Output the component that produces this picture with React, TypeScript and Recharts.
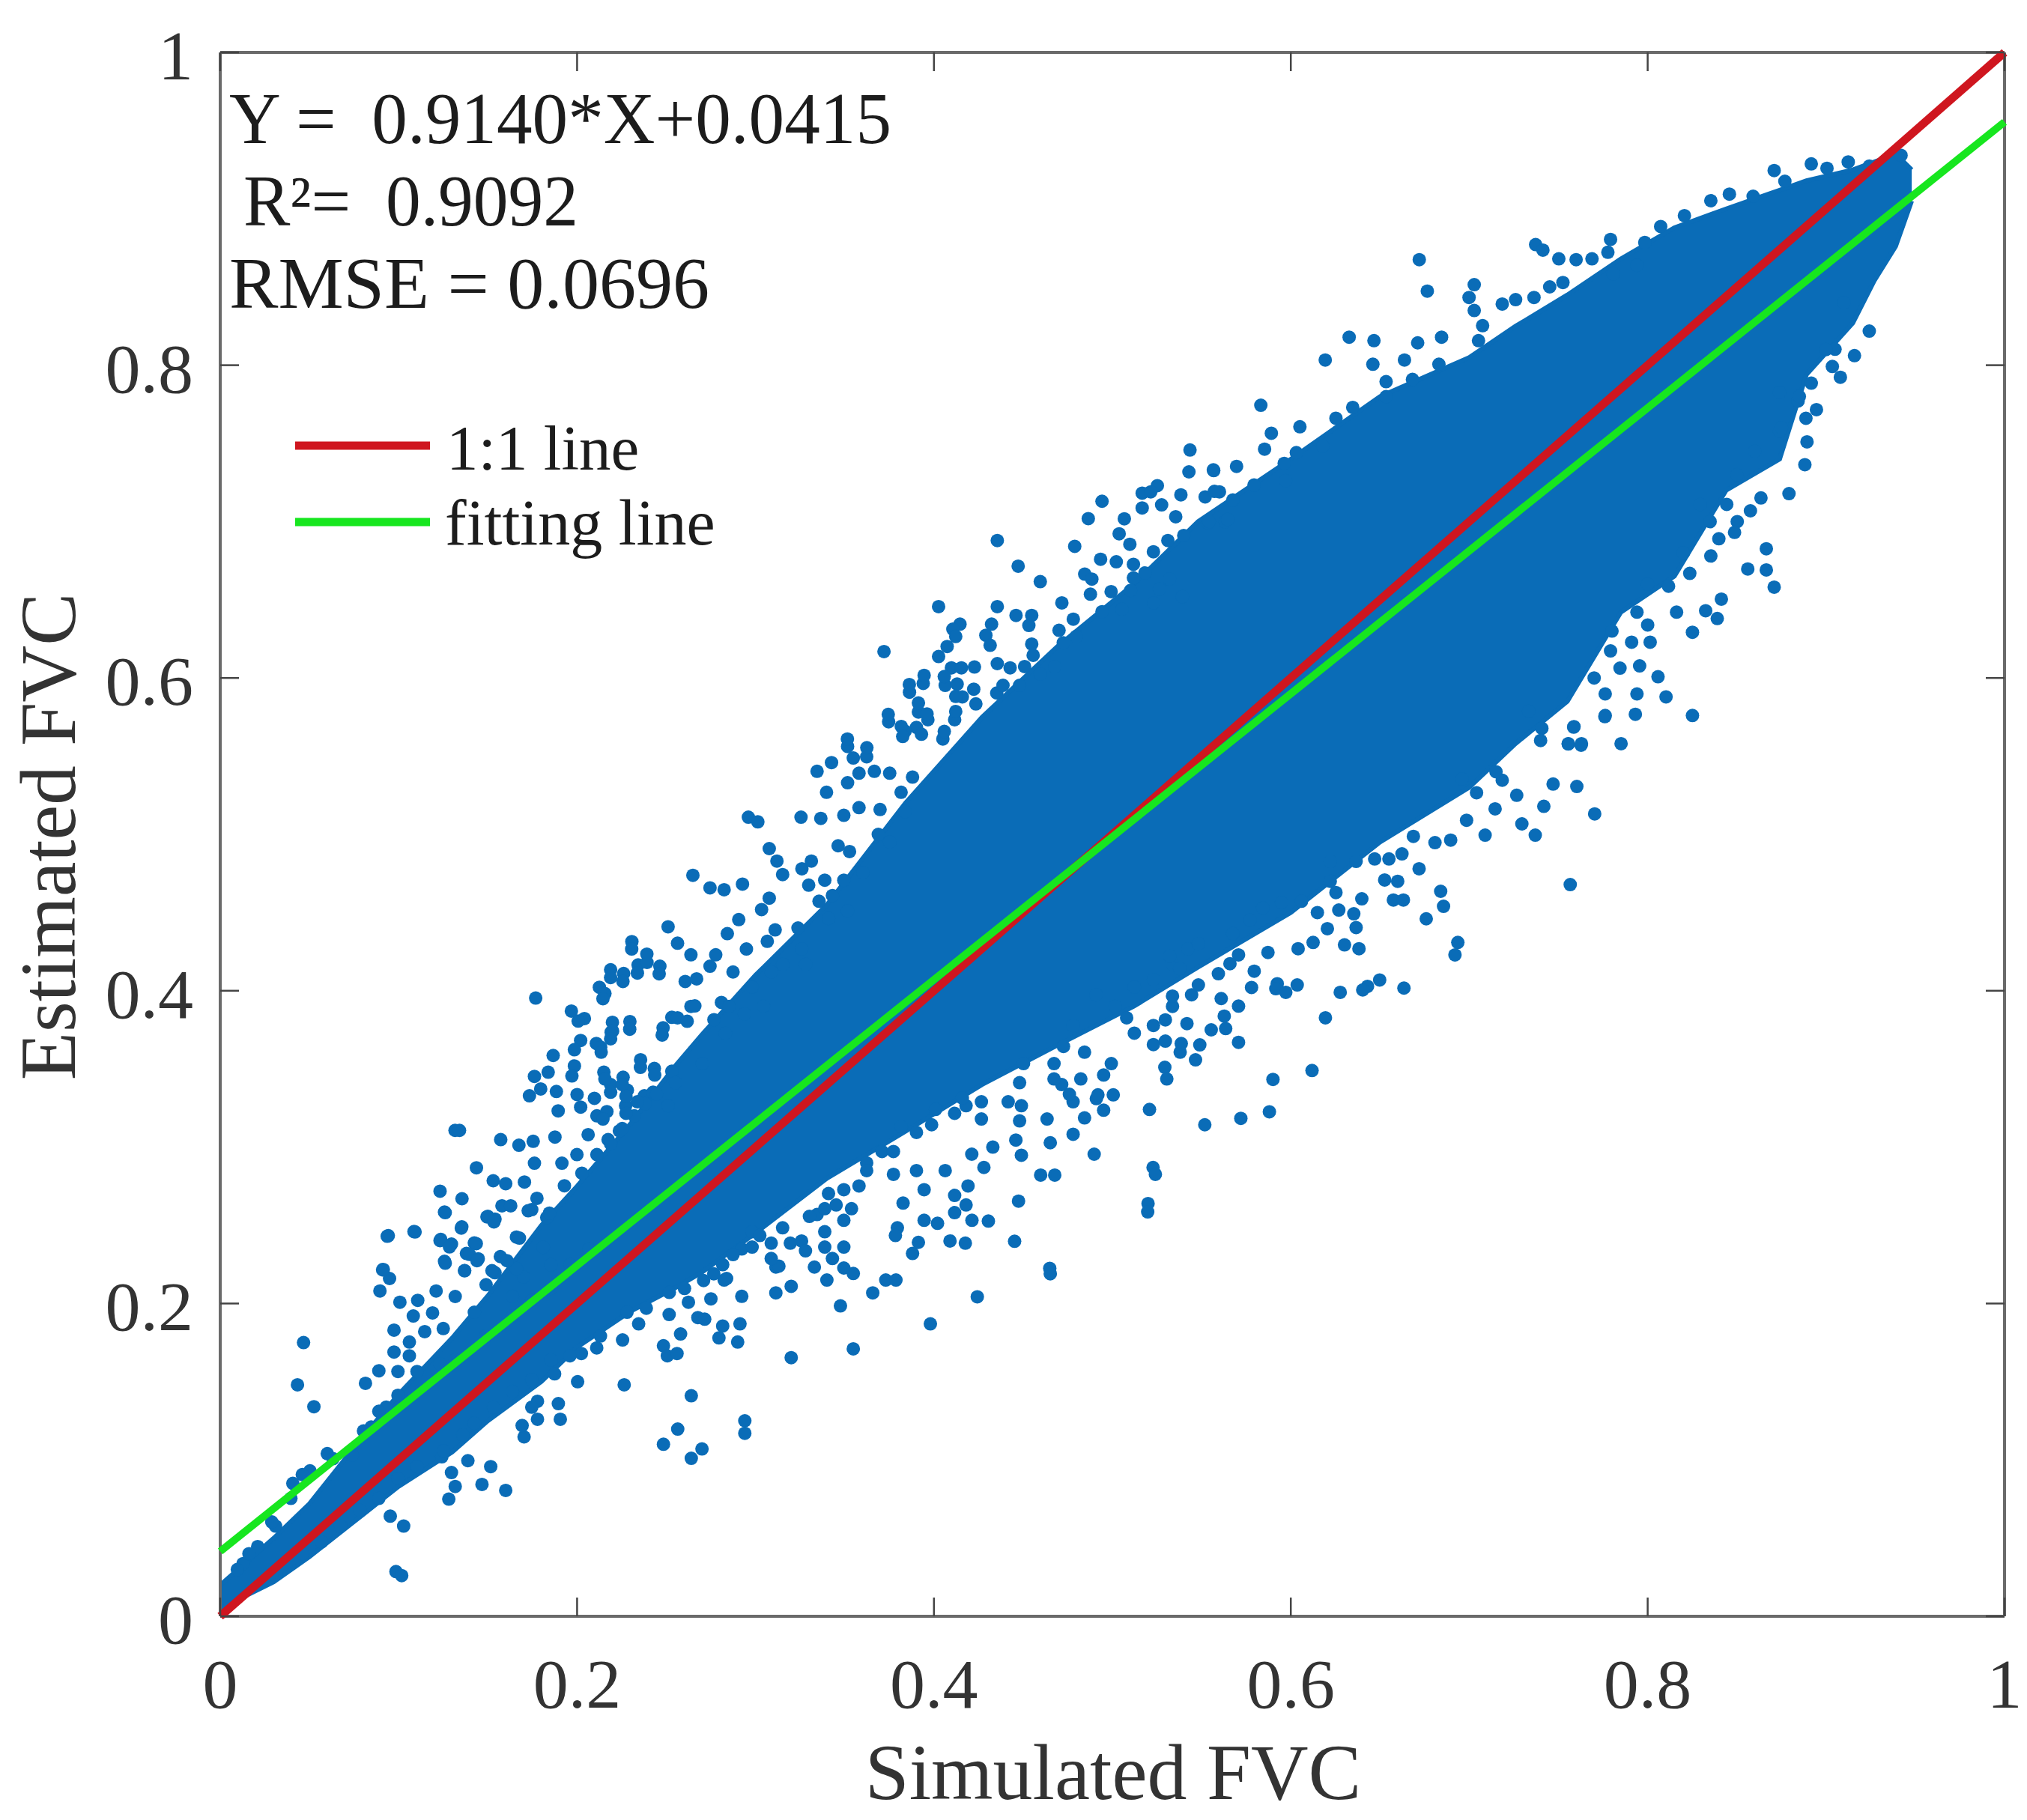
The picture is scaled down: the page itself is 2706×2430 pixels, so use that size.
import { ComposedChart, Area, Scatter, Line, XAxis, YAxis } from 'recharts';

const BLUE = '#0a6cb7';
const FONT = '"Liberation Serif", serif';

const tickValues = [0, 0.2, 0.4, 0.6, 0.8, 1];
const oneToOneLine = [{ x: 0, y: 0 }, { x: 1, y: 1 }];
const fittingLine = [{ x: 0, y: 0.0415 }, { x: 1, y: 0.9555 }];

// solid part of the cloud: x, lower edge, upper edge
const coreEdges = [
  [0, 0.005, 0.02], [0.03, 0.022, 0.05], [0.05, 0.038, 0.072], [0.08, 0.065, 0.115],
  [0.1, 0.083, 0.142], [0.13, 0.105, 0.178], [0.15, 0.125, 0.205], [0.18, 0.15, 0.25],
  [0.2, 0.172, 0.275], [0.23, 0.195, 0.315], [0.255, 0.21, 0.352], [0.27, 0.22, 0.372],
  [0.3, 0.245, 0.41], [0.34, 0.28, 0.455], [0.384, 0.31, 0.52], [0.427, 0.34, 0.575],
  [0.469, 0.365, 0.62], [0.512, 0.39, 0.66], [0.548, 0.415, 0.7], [0.6, 0.45, 0.74],
  [0.65, 0.495, 0.78], [0.7, 0.53, 0.805], [0.726, 0.558, 0.825], [0.755, 0.585, 0.845],
  [0.785, 0.642, 0.868], [0.815, 0.665, 0.888], [0.844, 0.72, 0.9], [0.874, 0.74, 0.912],
  [0.889, 0.794, 0.918], [0.915, 0.827, 0.925], [0.927, 0.854, 0.93], [0.939, 0.876, 0.935],
  [0.948, 0.905, 0.925],
];

// separate dots above the solid part
const upperDots = [
  [0.0467, 0.175], [0.0433, 0.148], [0.0525, 0.134], [0.0936, 0.243], [0.1086, 0.246], [0.091, 0.2215],
  [0.0949, 0.216], [0.0895, 0.208], [0.1257, 0.2585], [0.1354, 0.249], [0.15, 0.2557], [0.154, 0.254],
  [0.1236, 0.241], [0.1296, 0.238], [0.1257, 0.227], [0.1424, 0.2387], [0.138, 0.232], [0.1446, 0.2286],
  [0.137, 0.221], [0.1007, 0.2008], [0.1107, 0.202], [0.1082, 0.192], [0.121, 0.208], [0.0974, 0.183],
  [0.106, 0.1754], [0.0974, 0.169], [0.0889, 0.157], [0.0814, 0.149], [0.06, 0.104], [0.0503, 0.093],
  [0.0407, 0.085], [0.021, 0.0446], [0.0128, 0.0337], [0.154, 0.2197], [0.166, 0.2425], [0.183, 0.255],
  [0.1746, 0.26], [0.181, 0.236], [0.157, 0.23], [0.17, 0.217], [0.149, 0.212], [0.1317, 0.2045],
  [0.119, 0.194], [0.125, 0.184], [0.1146, 0.182], [0.106, 0.1666], [0.0996, 0.1565], [0.093, 0.1337],
  [0.0846, 0.121], [0.074, 0.103], [0.046, 0.0906], [0.031, 0.0577], [0.1638, 0.2046], [0.1424, 0.1944],
  [0.1232, 0.1615], [0.1317, 0.164], [0.1489, 0.1792], [0.1638, 0.1919], [0.1746, 0.202], [0.1853, 0.2096],
  [0.196, 0.2248], [0.2067, 0.2349], [0.1853, 0.2248], [0.166, 0.2223], [0.1103, 0.1565], [0.0996, 0.1413],
  [0.0889, 0.1311], [0.0803, 0.1185], [0.0632, 0.1008], [0.0396, 0.0754], [0.0289, 0.0603], [0.0161, 0.04],
  [0.0096, 0.0299],
  [0.2307, 0.4314], [0.2391, 0.4234], [0.2342, 0.4165], [0.2464, 0.4157], [0.2188, 0.4134], [0.2261, 0.411],
  [0.2125, 0.4022], [0.2156, 0.3982], [0.1768, 0.3953], [0.1968, 0.387], [0.2041, 0.3822], [0.2006, 0.3806],
  [0.2198, 0.3798], [0.2296, 0.3803], [0.2191, 0.3735], [0.2482, 0.3763], [0.2531, 0.383], [0.202, 0.3682],
  [0.1985, 0.3623], [0.2108, 0.3663], [0.2132, 0.3639], [0.1866, 0.3586], [0.2356, 0.3559], [0.1985, 0.3519],
  [0.1838, 0.3479], [0.1761, 0.3452], [0.1971, 0.3455], [0.215, 0.3479], [0.2258, 0.3447], [0.2188, 0.34],
  [0.2433, 0.3503], [0.1796, 0.3372], [0.1733, 0.3328], [0.1884, 0.3356], [0.2282, 0.3364], [0.2, 0.3336],
  [0.2097, 0.3312], [0.2377, 0.3328], [0.2426, 0.3351], [0.202, 0.3256], [0.1894, 0.3232], [0.2111, 0.32],
  [0.2167, 0.3227], [0.2272, 0.3264], [0.2321, 0.32], [0.1316, 0.3107], [0.1341, 0.3107], [0.1572, 0.3048],
  [0.1674, 0.3012], [0.1754, 0.3037], [0.1876, 0.3064], [0.2062, 0.308], [0.2174, 0.3048], [0.2237, 0.3104],
  [0.1436, 0.2868], [0.1761, 0.2897], [0.1999, 0.2952], [0.2111, 0.2952], [0.1915, 0.2897], [0.153, 0.2785],
  [0.16, 0.2766], [0.1705, 0.2777], [0.1232, 0.2718], [0.1355, 0.267], [0.1579, 0.2625], [0.1628, 0.2625],
  [0.1261, 0.2581], [0.1495, 0.2554], [0.1534, 0.2522], [0.1726, 0.2593], [0.1351, 0.2482], [0.0942, 0.2434],
  [0.1092, 0.2458], [0.1232, 0.2402], [0.1285, 0.2362], [0.1435, 0.2383], [0.1397, 0.2314], [0.1261, 0.2258],
  [0.1439, 0.2274], [0.0914, 0.2218], [0.1677, 0.2418], [0.1607, 0.2274], [0.1775, 0.2673], [0.1845, 0.2578],
  [0.1929, 0.2753], [0.2027, 0.2833], [0.1369, 0.221], [0.1523, 0.221],
  [0.3863, 0.5909], [0.394, 0.5965], [0.4063, 0.5953], [0.3746, 0.572], [0.3913, 0.5782], [0.3516, 0.5562],
  [0.3623, 0.5496], [0.3548, 0.5488], [0.3345, 0.5403], [0.3426, 0.5459], [0.3516, 0.533], [0.3398, 0.5269],
  [0.358, 0.5171], [0.3495, 0.5122], [0.3698, 0.5159], [0.3255, 0.511], [0.3366, 0.5102], [0.296, 0.511],
  [0.3013, 0.508], [0.3077, 0.4909], [0.312, 0.4829], [0.3152, 0.4743], [0.326, 0.478], [0.3313, 0.4829],
  [0.3463, 0.4927], [0.3527, 0.489], [0.2649, 0.4738], [0.2745, 0.4658], [0.2824, 0.4646], [0.2927, 0.4682],
  [0.3077, 0.4592], [0.3034, 0.4519], [0.3298, 0.4675], [0.3356, 0.4572], [0.2906, 0.4455], [0.251, 0.4409],
  [0.2563, 0.4304], [0.2306, 0.4267], [0.2638, 0.423], [0.2392, 0.4181], [0.2338, 0.4113], [0.246, 0.4108],
  [0.2188, 0.4084], [0.2257, 0.4059], [0.2606, 0.4059], [0.267, 0.4076], [0.2842, 0.4365], [0.2777, 0.423],
  [0.2949, 0.4267], [0.3066, 0.4316], [0.311, 0.4389], [0.3238, 0.4401], [0.2745, 0.4157], [0.2874, 0.412],
  [0.2145, 0.3949], [0.2638, 0.39], [0.2809, 0.3925], [0.2563, 0.3827], [0.2767, 0.3815], [0.2199, 0.3742],
  [0.2295, 0.3754], [0.2477, 0.3717], [0.2188, 0.3693], [0.2135, 0.3607], [0.2355, 0.351], [0.2435, 0.3461],
  [0.2531, 0.3485], [0.2156, 0.3436], [0.2253, 0.34], [0.2188, 0.3351], [0.2274, 0.3326], [0.2381, 0.3277],
  [0.2145, 0.318], [0.2274, 0.3216],
  [0.2981, 0.4023], [0.3088, 0.412], [0.3152, 0.4169], [0.3259, 0.4267], [0.3281, 0.4169], [0.3388, 0.4707],
  [0.3431, 0.4609], [0.3495, 0.4707], [0.3409, 0.4462], [0.3516, 0.4511], [0.3602, 0.4756], [0.3688, 0.5],
  [0.3752, 0.4951], [0.3816, 0.5269], [0.388, 0.5366], [0.3838, 0.5146], [0.3752, 0.5391], [0.3666, 0.5403],
  [0.358, 0.5391], [0.3902, 0.5684], [0.3966, 0.5733], [0.3838, 0.566], [0.405, 0.561], [0.4116, 0.5733],
  [0.4159, 0.5879], [0.4223, 0.5928], [0.4352, 0.5904], [0.448, 0.5953], [0.2617, 0.3805], [0.266, 0.3903],
  [0.2852, 0.39], [0.2702, 0.3534], [0.2552, 0.3412], [0.2445, 0.3339], [0.2338, 0.329], [0.2253, 0.3119],
  [0.2188, 0.3021], [0.251, 0.3265], [0.2831, 0.3729], [0.2938, 0.3852], [0.3045, 0.3901],
  [0.5435, 0.7458], [0.5429, 0.7318], [0.5568, 0.7326], [0.5252, 0.723], [0.5167, 0.7182], [0.5215, 0.719],
  [0.4942, 0.713], [0.5384, 0.7171], [0.5167, 0.7087], [0.5276, 0.7107], [0.552, 0.7158], [0.56, 0.719],
  [0.5355, 0.7031], [0.4865, 0.7019], [0.5067, 0.7018], [0.5536, 0.6991], [0.5633, 0.6999], [0.5038, 0.6922],
  [0.4355, 0.6879], [0.4789, 0.6842], [0.5098, 0.6855], [0.54, 0.6911], [0.5311, 0.6879], [0.523, 0.6807],
  [0.4934, 0.6759], [0.5022, 0.6743], [0.4472, 0.6715], [0.4845, 0.6664], [0.4885, 0.6632], [0.4596, 0.6616],
  [0.5118, 0.6727], [0.5183, 0.6672], [0.5118, 0.664], [0.532, 0.6632], [0.5263, 0.6568], [0.5102, 0.656],
  [0.4993, 0.6552], [0.4717, 0.648], [0.4026, 0.6456], [0.4355, 0.6456], [0.446, 0.64], [0.4548, 0.64],
  [0.4532, 0.6336], [0.4146, 0.6344], [0.4323, 0.6344], [0.4106, 0.6312], [0.4122, 0.6265], [0.4291, 0.6273],
  [0.4315, 0.6209], [0.4074, 0.6201], [0.4548, 0.6217], [0.4026, 0.6137], [0.372, 0.6169], [0.4556, 0.6145],
  [0.4725, 0.6225], [0.4701, 0.6305], [0.4781, 0.6376], [0.4877, 0.6536], [0.5054, 0.644], [0.5231, 0.648],
  [0.5392, 0.652], [0.4098, 0.6065], [0.4154, 0.6065], [0.4227, 0.607], [0.4355, 0.6092], [0.4427, 0.6065],
  [0.4508, 0.6073], [0.4596, 0.6025], [0.4677, 0.6073], [0.3945, 0.6017], [0.3862, 0.5958], [0.4058, 0.6009],
  [0.413, 0.5961], [0.4387, 0.5953], [0.3744, 0.5767], [0.3913, 0.584], [0.4122, 0.5882], [0.3817, 0.569],
  [0.3961, 0.577], [0.3825, 0.5626], [0.3515, 0.561], [0.3624, 0.5554], [0.393, 0.564], [0.4058, 0.5658],
  [0.4122, 0.5786], [0.4235, 0.5834], [0.4797, 0.6265], [0.4942, 0.6424],
  [0.672, 0.8675], [0.6765, 0.8474], [0.6327, 0.8179], [0.6466, 0.8157], [0.6193, 0.8033], [0.5832, 0.7744],
  [0.5891, 0.7565], [0.6051, 0.7606], [0.5853, 0.7463], [0.6031, 0.7441], [0.5963, 0.7372], [0.5566, 0.7331],
  [0.5696, 0.7353], [0.5572, 0.7193], [0.5794, 0.7234], [0.5675, 0.7138], [0.5971, 0.7262], [0.5542, 0.7],
  [0.5646, 0.7014], [0.6179, 0.7482], [0.6253, 0.7661], [0.6347, 0.773], [0.6534, 0.7799], [0.6534, 0.7895],
  [0.646, 0.8006], [0.6711, 0.8143], [0.6845, 0.8179], [0.6637, 0.8033], [0.6682, 0.7909], [0.683, 0.8006],
  [0.7028, 0.8515], [0.6999, 0.8433], [0.7028, 0.835], [0.7075, 0.8253], [0.7052, 0.8157], [0.7185, 0.8391],
  [0.726, 0.8419], [0.7363, 0.8433], [0.7372, 0.8771], [0.7413, 0.8736], [0.7502, 0.868], [0.7599, 0.8675],
  [0.7688, 0.868], [0.7792, 0.8804], [0.7777, 0.8722], [0.7984, 0.8785], [0.7807, 0.8584], [0.7525, 0.8529],
  [0.7451, 0.8501], [0.794, 0.8639], [0.8206, 0.8956], [0.8073, 0.8887], [0.8458, 0.9094], [0.8354, 0.9052],
  [0.8709, 0.9245], [0.8769, 0.9176], [0.8917, 0.9287], [0.9005, 0.9259], [0.9124, 0.93], [0.9242, 0.9273],
  [0.942, 0.9342], [0.8591, 0.908],
];

// separate dots below the solid part
const lowerDots = [
  [0.1296, 0.0919], [0.1388, 0.0995], [0.1516, 0.0957], [0.1317, 0.083], [0.1467, 0.0843], [0.16, 0.0805],
  [0.1281, 0.0749], [0.0953, 0.064], [0.1028, 0.0577], [0.0985, 0.0286], [0.1017, 0.026], [0.1242, 0.102],
  [0.2003, 0.15], [0.2264, 0.148], [0.264, 0.141], [0.2564, 0.1197], [0.2484, 0.11], [0.264, 0.101],
  [0.27, 0.107], [0.294, 0.125], [0.294, 0.117], [0.2255, 0.1767], [0.2484, 0.173], [0.2506, 0.1666],
  [0.256, 0.168], [0.258, 0.1805], [0.2677, 0.191], [0.2816, 0.1856], [0.29, 0.1754], [0.2795, 0.178],
  [0.2913, 0.187], [0.1778, 0.1375], [0.1778, 0.126], [0.1895, 0.136], [0.1906, 0.126], [0.1703, 0.1147],
  [0.1692, 0.122], [0.1746, 0.1337], [0.1874, 0.155], [0.211, 0.1716], [0.2024, 0.168], [0.2345, 0.187],
  [0.2516, 0.193], [0.2624, 0.2008], [0.275, 0.203], [0.2838, 0.216], [0.2923, 0.2046],
  [0.228, 0.1944], [0.2388, 0.197], [0.2517, 0.2071], [0.2602, 0.2096], [0.2709, 0.2147], [0.2816, 0.2248],
  [0.2923, 0.2349], [0.2131, 0.1792], [0.196, 0.1666], [0.1853, 0.164], [0.1746, 0.1514], [0.1638, 0.1438],
  [0.1531, 0.1337], [0.1424, 0.1235], [0.136, 0.116], [0.1253, 0.1058], [0.1103, 0.0957], [0.0996, 0.0881],
  [0.0889, 0.0754], [0.0782, 0.0678], [0.0675, 0.0577], [0.0568, 0.0476], [0.046, 0.04],
  [0.32, 0.1654], [0.3548, 0.171], [0.32, 0.211], [0.34, 0.215], [0.3476, 0.1985], [0.373, 0.215],
  [0.3787, 0.215], [0.398, 0.187], [0.4243, 0.2043], [0.409, 0.24], [0.4649, 0.2225], [0.52, 0.2639],
  [0.5228, 0.287], [0.491, 0.331], [0.572, 0.3184], [0.5518, 0.3143], [0.588, 0.3226], [0.59, 0.3433],
  [0.6119, 0.349], [0.643, 0.4028], [0.3258, 0.24], [0.3114, 0.2233], [0.333, 0.2233], [0.2824, 0.215],
  [0.2715, 0.19], [0.3114, 0.2068], [0.3548, 0.2192], [0.3657, 0.2068],
  [0.5208, 0.3241], [0.5241, 0.2826], [0.5198, 0.2586], [0.4898, 0.2955], [0.478, 0.3082], [0.4652, 0.3028],
  [0.4634, 0.318], [0.4844, 0.3187], [0.4951, 0.3236], [0.5005, 0.3334], [0.4919, 0.3334], [0.478, 0.329],
  [0.449, 0.2948], [0.4459, 0.3045], [0.433, 0.3], [0.4212, 0.2955], [0.428, 0.287], [0.4598, 0.2821],
  [0.4677, 0.2821], [0.4474, 0.2655], [0.4191, 0.2752], [0.4116, 0.2691], [0.418, 0.263], [0.4116, 0.2581],
  [0.4213, 0.2532], [0.4305, 0.2527], [0.3945, 0.2532], [0.402, 0.2513], [0.3795, 0.2484], [0.3784, 0.2435],
  [0.4176, 0.2386], [0.4452, 0.2398], [0.3913, 0.2391], [0.388, 0.232], [0.4652, 0.219], [0.3827, 0.2642],
  [0.4063, 0.285], [0.3945, 0.2728], [0.5294, 0.351], [0.5305, 0.3436], [0.5466, 0.3558], [0.538, 0.3607],
  [0.5123, 0.3729], [0.523, 0.3656], [0.4994, 0.3534], [0.4726, 0.3644], [0.4673, 0.3534], [0.4716, 0.34],
  [0.4759, 0.3338], [0.4823, 0.3436], [0.4502, 0.3534], [0.449, 0.3265], [0.448, 0.3168], [0.4266, 0.318],
  [0.418, 0.3265], [0.3987, 0.3143], [0.3816, 0.3131], [0.3709, 0.2972], [0.3623, 0.2899], [0.3773, 0.2826],
  [0.3902, 0.285], [0.3452, 0.263], [0.3538, 0.2606], [0.3388, 0.2459], [0.3495, 0.2361], [0.3431, 0.2288],
  [0.3495, 0.2227], [0.3195, 0.2386], [0.3088, 0.2386], [0.3131, 0.2239], [0.298, 0.2459], [0.3345, 0.2569],
  [0.358, 0.2752],
  [0.4909, 0.3974], [0.5016, 0.39], [0.5123, 0.4023], [0.523, 0.4071], [0.5337, 0.4169], [0.5423, 0.4267],
  [0.508, 0.3827], [0.523, 0.3778], [0.5337, 0.39], [0.5444, 0.3974], [0.478, 0.3778], [0.4844, 0.3607],
  [0.4951, 0.3461], [0.4673, 0.3436], [0.448, 0.3412], [0.4416, 0.329], [0.4266, 0.329], [0.4159, 0.3314],
  [0.4116, 0.3216], [0.4009, 0.3241], [0.3902, 0.3094], [0.3773, 0.2972], [0.3623, 0.285], [0.3495, 0.2728],
  [0.3409, 0.2703], [0.3495, 0.2532], [0.3388, 0.2606], [0.3302, 0.2557], [0.3152, 0.2484], [0.3024, 0.2435],
  [0.2981, 0.2361], [0.3088, 0.2288], [0.2874, 0.2313], [0.2766, 0.219], [0.328, 0.2337], [0.3388, 0.2361],
  [0.7587, 0.5689], [0.7555, 0.5578], [0.7627, 0.557], [0.776, 0.5753], [0.7185, 0.5346], [0.7266, 0.525],
  [0.747, 0.5322], [0.7603, 0.5306], [0.7418, 0.5179], [0.7703, 0.5131], [0.7145, 0.5163], [0.7295, 0.5067],
  [0.737, 0.4995], [0.7089, 0.4995], [0.7566, 0.4679], [0.684, 0.4636], [0.6856, 0.454], [0.6759, 0.446],
  [0.6936, 0.4309], [0.692, 0.4229], [0.6719, 0.478], [0.6526, 0.4708], [0.6599, 0.47], [0.6398, 0.4588],
  [0.6575, 0.458], [0.6631, 0.458], [0.6269, 0.4516], [0.6149, 0.45], [0.6353, 0.4492], [0.6366, 0.4404],
  [0.6205, 0.4397], [0.6125, 0.4309], [0.6041, 0.4269], [0.6301, 0.4293], [0.6382, 0.4269], [0.5872, 0.4245],
  [0.5771, 0.4452], [0.5843, 0.453], [0.5948, 0.4564], [0.606, 0.4572], [0.6221, 0.4827], [0.6366, 0.4827],
  [0.6221, 0.47], [0.6253, 0.4628], [0.647, 0.4843], [0.655, 0.4843], [0.6623, 0.4875], [0.6808, 0.4947],
  [0.6896, 0.4963], [0.6687, 0.4987], [0.7041, 0.5266], [0.6985, 0.509], [0.696, 0.5354], [0.6036, 0.4037],
  [0.5924, 0.4045], [0.578, 0.4021], [0.5795, 0.4125], [0.5707, 0.4229], [0.5659, 0.4173], [0.6277, 0.399],
  [0.6403, 0.4005], [0.6498, 0.4069], [0.6634, 0.4017], [0.6194, 0.3827], [0.5707, 0.3902], [0.561, 0.395],
  [0.5627, 0.3838], [0.5418, 0.379], [0.5554, 0.375], [0.5635, 0.3758], [0.5707, 0.367], [0.549, 0.3654],
  [0.5386, 0.3662], [0.5297, 0.3678], [0.5297, 0.3814], [0.5337, 0.3966], [0.5482, 0.4037], [0.5377, 0.4141],
  [0.5321, 0.4221], [0.5482, 0.43], [0.5916, 0.4013], [0.5972, 0.399], [0.5594, 0.4109], [0.5675, 0.4365],
  [0.9242, 0.8218], [0.905, 0.8102], [0.9159, 0.8061], [0.908, 0.7923], [0.8946, 0.7716], [0.8887, 0.7661],
  [0.8893, 0.751], [0.8881, 0.7364], [0.8792, 0.7179], [0.8635, 0.7151], [0.8576, 0.7069], [0.8502, 0.7],
  [0.8487, 0.6931], [0.8399, 0.689], [0.8354, 0.678], [0.8665, 0.6826], [0.8561, 0.6697], [0.8665, 0.6691],
  [0.8709, 0.6581], [0.8413, 0.6504], [0.8325, 0.643], [0.839, 0.638], [0.8251, 0.6292], [0.8162, 0.6421],
  [0.8058, 0.6008], [0.8103, 0.5879], [0.794, 0.5898], [0.7931, 0.5768], [0.8251, 0.576], [0.7955, 0.6077],
  [0.7845, 0.6063], [0.7792, 0.6173], [0.8014, 0.6229], [0.791, 0.6229], [0.7762, 0.576], [0.7762, 0.5898],
  [0.7585, 0.5686], [0.7851, 0.558], [0.7555, 0.558], [0.7629, 0.558], [0.7333, 0.5788], [0.7407, 0.5678],
  [0.794, 0.6421], [0.8, 0.6339], [0.8117, 0.6587], [0.8236, 0.6669], [0.8843, 0.7771], [0.8739, 0.7826],
  [0.8739, 0.7578], [0.9035, 0.7992], [0.8917, 0.7885], [0.8443, 0.711], [0.8295, 0.711],
  [0.8, 0.66], [0.82, 0.68], [0.835, 0.7], [0.85, 0.73], [0.86, 0.745], [0.875, 0.76], [0.885, 0.78],
  [0.9, 0.81], [0.91, 0.84], [0.74, 0.56], [0.77, 0.6], [0.78, 0.63], [0.715, 0.54],
];

const chartRows = coreEdges.map(([x, low, high]) => ({ x, band: [low, high] }));
const dots = [...upperDots, ...lowerDots].map(([x, y]) => ({ x, y }));

function Dot(props: any) {
  return <circle cx={props.cx} cy={props.cy} r={9} fill={BLUE} />;
}

function BottomTick({ x, y, payload }: any) {
  return (
    <g>
      <line x1={x} x2={x} y1={y} y2={y - 25} stroke="#444" strokeWidth={2.5} />
      <text x={x} y={y + 122} textAnchor="middle" fontSize={94} fontFamily={FONT} fill="#333">
        {payload.value}
      </text>
    </g>
  );
}

function LeftTick({ x, y, payload }: any) {
  return (
    <g>
      <line x1={x} x2={x + 25} y1={y} y2={y} stroke="#444" strokeWidth={2.5} />
      <text x={258} y={y + 36} textAnchor="end" fontSize={94} fontFamily={FONT} fill="#333">
        {payload.value}
      </text>
    </g>
  );
}

function TopTick({ x, y }: any) {
  return <line x1={x} x2={x} y1={y} y2={y + 25} stroke="#444" strokeWidth={2.5} />;
}

function RightTick({ x, y }: any) {
  return <line x1={x} x2={x - 25} y1={y} y2={y} stroke="#444" strokeWidth={2.5} />;
}

const textStyle = { fontFamily: FONT, fill: '#1c1c1c', style: { whiteSpace: 'pre' as const } };
const frame = { stroke: '#6a6a6a', strokeWidth: 4 };

export default function App() {
  return (
    <div style={{ position: 'absolute', left: 0, top: 0, width: 2706, height: 2430, background: '#fff' }}>
      <ComposedChart
        width={2706}
        height={2430}
        data={chartRows}
        margin={{ top: 69, right: 29, bottom: 0, left: 0 }}
      >
        <XAxis
          xAxisId={0}
          dataKey="x"
          type="number"
          domain={[0, 1]}
          ticks={tickValues}
          interval={0}
          height={272}
          tickLine={false}
          tickSize={0}
          tickMargin={0}
          axisLine={frame}
          tick={BottomTick}
        />
        <XAxis
          xAxisId="top"
          orientation="top"
          dataKey="x"
          type="number"
          domain={[0, 1]}
          ticks={tickValues}
          interval={0}
          height={1}
          tickLine={false}
          tickSize={0}
          tickMargin={0}
          axisLine={frame}
          tick={TopTick}
        />
        <YAxis
          yAxisId={0}
          type="number"
          domain={[0, 1]}
          ticks={tickValues}
          interval={0}
          width={294}
          tickLine={false}
          tickSize={0}
          tickMargin={0}
          axisLine={frame}
          tick={LeftTick}
        />
        <YAxis
          yAxisId="right"
          orientation="right"
          type="number"
          domain={[0, 1]}
          ticks={tickValues}
          interval={0}
          width={1}
          tickLine={false}
          tickSize={0}
          tickMargin={0}
          axisLine={frame}
          tick={RightTick}
        />
        <Area dataKey="band" fill={BLUE} fillOpacity={1} stroke={BLUE} strokeWidth={6} dot={false} activeDot={false} isAnimationActive={false} />
        <Scatter data={dots} dataKey="y" shape={Dot} isAnimationActive={false} />
        {/* keeps the top and right frame axes on the same 0-1 scale */}
        <Line xAxisId="top" yAxisId="right" data={oneToOneLine} dataKey="y" stroke="none" dot={false} activeDot={false} isAnimationActive={false} />
        <Line data={oneToOneLine} dataKey="y" stroke="#cf161f" strokeWidth={11} dot={false} activeDot={false} isAnimationActive={false} zIndex={1000} />
        <Line data={fittingLine} dataKey="y" stroke="#17e61f" strokeWidth={10} dot={false} activeDot={false} isAnimationActive={false} zIndex={1001} />

        <text x={306} y={191} fontSize={97} textLength={884} lengthAdjust="spacingAndGlyphs" {...textStyle}>{'Y =  0.9140*X+0.0415'}</text>
        <text x={325} y={301} fontSize={97} textLength={447} lengthAdjust="spacingAndGlyphs" {...textStyle}>{'R²=  0.9092'}</text>
        <text x={306} y={411} fontSize={98} textLength={641} lengthAdjust="spacingAndGlyphs" {...textStyle}>RMSE = 0.0696</text>

        <line x1={394} x2={574} y1={595} y2={595} stroke="#cf161f" strokeWidth={11} />
        <text x={596} y={627} fontSize={85} {...textStyle}>1:1 line</text>
        <line x1={394} x2={574} y1={697} y2={697} stroke="#17e61f" strokeWidth={11} />
        <text x={594} y={727} fontSize={86} {...textStyle}>fitting line</text>

        <text x={1486} y={2402} fontSize={106} textAnchor="middle" fill="#333" fontFamily={FONT}>Simulated FVC</text>
        <text x={0} y={0} fontSize={105} textAnchor="middle" fill="#333" fontFamily={FONT} transform="translate(100 1117) rotate(-90)">Estimated FVC</text>
      </ComposedChart>
    </div>
  );
}
